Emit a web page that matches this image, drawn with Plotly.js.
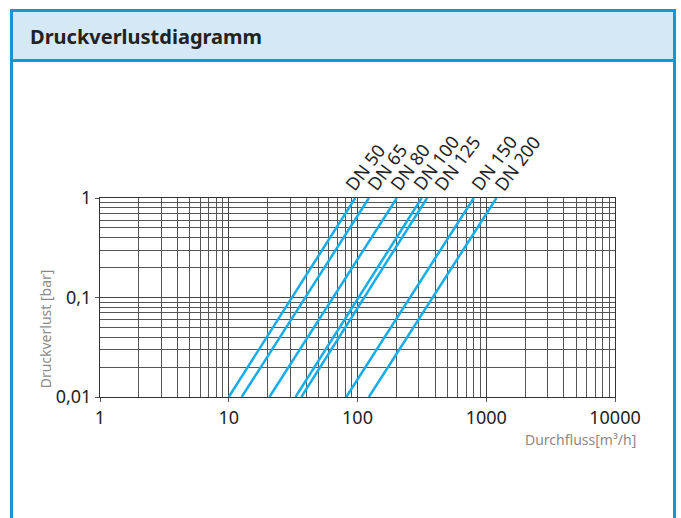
<!DOCTYPE html>
<html>
<head>
<meta charset="utf-8">
<script src="https://cdn.plot.ly/plotly-3.0.1.min.js"></script>
<style>
  html, body { margin: 0; padding: 0; background: #ffffff; }
  #wrap { position: relative; width: 681px; height: 518px; overflow: hidden; }
  #frame { position: absolute; left: 10px; top: 9px; width: 666px; height: 530px;
           box-sizing: border-box; border: 3px solid #1296d8; border-bottom: none; }
  #head { position: absolute; left: 10px; top: 9px; width: 666px; height: 53px;
          box-sizing: border-box; background: #d4e8f6;
          border: 3px solid #1296d8; }
  #chart { position: absolute; left: 0; top: 0; width: 681px; height: 518px; }
</style>
</head>
<body>
<div id="wrap">
  <div id="frame"></div>
  <div id="head"></div>
  <div id="chart"></div>
</div>
<script>
// ---- data ----
const sizes      = ['DN 50', 'DN 65', 'DN 80', 'DN 100', 'DN 125', 'DN 150', 'DN 200'];
const flowAtLow  = [10, 12.6, 20.7, 33, 36.6, 81.8, 122.6];   // m³/h at 0,01 bar
const flowAtHigh = [96, 122.6, 202, 315, 347, 800, 1200];     // m³/h at 1 bar
const pressureEnds = [0.01, 1];                               // bar
const xMajor = [1, 10, 100, 1000, 10000];
const xMajorText = ['1', '10', '100', '1000', '10000'];
const yMajor = [0.01, 0.1, 1];
const yMajorText = ['0,01', '0,1', '1'];
const minorDigits = [2, 3, 4, 5, 6, 7, 8, 9];

// label placement nudges (px) so that the rotated labels do not collide
const labelNudge = [-8, 0, -5, -7, 9, -1, 0];

function minorVals(decades) {
  const out = [];
  decades.forEach(d => minorDigits.forEach(m => out.push(m * d)));
  return out;
}
const xMinor = minorVals([1, 10, 100, 1000]);
const yMinor = minorVals([0.01, 0.1]);

const lineColor = '#16ade9';
const font = 'Noto Sans, Open Sans, sans-serif';

const traces = sizes.map((name, i) => ({
  type: 'scatter',
  mode: 'lines',
  name: name,
  x: [flowAtLow[i], flowAtHigh[i]],
  y: pressureEnds,
  line: { color: lineColor, width: 2.5 },
  hoverinfo: 'x+y+name',
  showlegend: false
}));

const annotations = sizes.map((name, i) => ({
  xref: 'x', yref: 'y',
  x: Math.log10(flowAtHigh[i]), y: Math.log10(pressureEnds[1]),
  text: name, showarrow: false,
  textangle: -53,
  xanchor: 'left', yanchor: 'bottom',
  xshift: -10 + labelNudge[i], yshift: 0,
  font: { family: font, size: 18, color: '#222222' }
}));

annotations.push({
  xref: 'paper', yref: 'paper',
  x: 1, y: -0.2136, xshift: 23,
  xanchor: 'right', yanchor: 'middle',
  text: 'Durchfluss[m³/h]', showarrow: false,
  font: { family: font, size: 14, color: '#8a8a8a' }
});
annotations.push({
  xref: 'paper', yref: 'paper',
  x: 0, y: 0.34, xshift: -55,
  xanchor: 'center', yanchor: 'middle',
  textangle: -90,
  text: 'Druckverlust [bar]', showarrow: false,
  font: { family: font, size: 14, color: '#8a8a8a' }
});

const axisCommon = {
  type: 'log',
  tickmode: 'array',
  showgrid: true, gridcolor: '#444444', gridwidth: 1,
  showline: true, linecolor: '#333333', linewidth: 1, mirror: true,
  ticks: 'outside', ticklen: 4, tickcolor: '#555555',
  zeroline: false,
  tickfont: { family: font, size: 18, color: '#222222' },
  fixedrange: true
};

const layout = {
  width: 681, height: 518,
  margin: { l: 100, r: 66, t: 198, b: 121 },
  paper_bgcolor: 'rgba(0,0,0,0)',
  plot_bgcolor: '#ffffff',
  title: {
    text: 'Druckverlustdiagramm',
    xref: 'container', yref: 'container',
    x: 30 / 681, xanchor: 'left',
    y: 1 - 37 / 518, yanchor: 'middle',
    font: { family: font, size: 20, color: '#222222', weight: 700 }
  },
  xaxis: Object.assign({}, axisCommon, {
    range: [0, 4],
    tickvals: xMajor, ticktext: xMajorText,
    minor: { tickmode: 'array', tickvals: xMinor, showgrid: true, gridcolor: '#555555', gridwidth: 1, ticks: '' }
  }),
  yaxis: Object.assign({}, axisCommon, {
    range: [-2, 0],
    tickvals: yMajor, ticktext: yMajorText,
    minor: { tickmode: 'array', tickvals: yMinor, showgrid: true, gridcolor: '#555555', gridwidth: 1, ticks: '' }
  }),
  annotations: annotations,
  showlegend: false
};

Plotly.newPlot('chart', traces, layout, { displayModeBar: false, staticPlot: true });
</script>
</body>
</html>
